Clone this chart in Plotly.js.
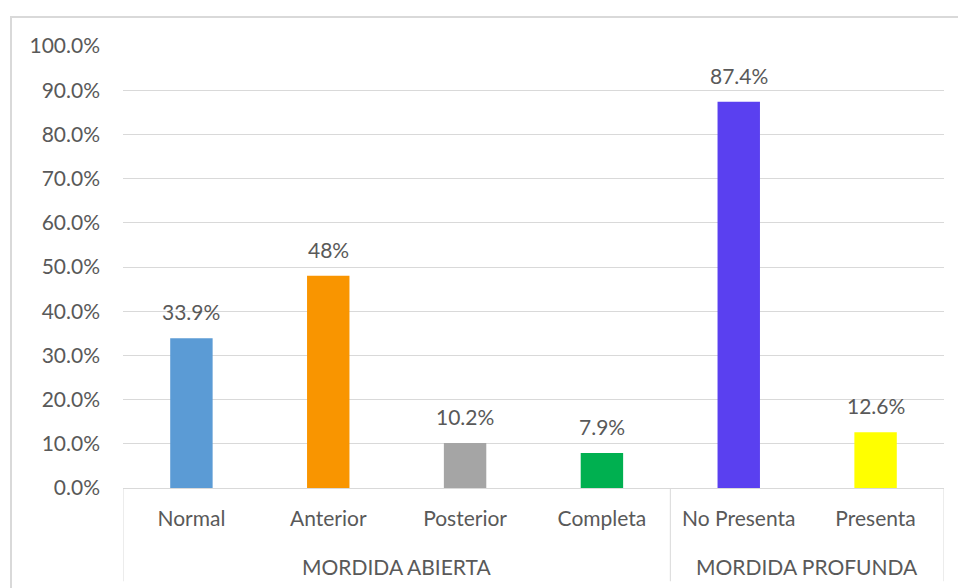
<!DOCTYPE html>
<html>
<head>
<meta charset="utf-8">
<script src="https://cdn.plot.ly/plotly-3.0.1.min.js"></script>
<style>
  html, body { margin: 0; padding: 0; background: #ffffff; }
  #chart { width: 958px; height: 588px; }
</style>
</head>
<body>
<div id="chart"></div>
<script>
// ---- data ----
const categories = ["Normal", "Anterior", "Posterior", "Completa", "No Presenta", "Presenta"];
const groupNames = ["MORDIDA ABIERTA", "MORDIDA PROFUNDA"];
const groupSizes = [4, 2];
const values = [33.9, 48, 10.2, 7.9, 87.4, 12.6];
const valueLabels = ["33.9%", "48%", "10.2%", "7.9%", "87.4%", "12.6%"];
const yTickValues = [0, 10, 20, 30, 40, 50, 60, 70, 80, 90, 100];
const yTickLabels = ["0.0%", "10.0%", "20.0%", "30.0%", "40.0%", "50.0%", "60.0%", "70.0%", "80.0%", "90.0%", "100.0%"];
const barColors = ["#5B9BD5", "#F99500", "#A5A5A5", "#00B050", "#5A40F0", "#FFFF00"];

// ---- styling ----
const FONT = "Lato, 'Open Sans', sans-serif";
const TXT = "#595959";
const GRID = "#d9d9d9";
const FS = 21;

const trace = {
  type: "bar",
  x: categories,
  y: values,
  marker: { color: barColors, line: { width: 0 } },
  width: 0.31,
  hoverinfo: "skip"
};

const annotations = [];
values.forEach((v, i) => {
  annotations.push({
    x: categories[i], y: v, xref: "x", yref: "y",
    text: valueLabels[i], showarrow: false,
    yanchor: "bottom", yshift: 12,
    font: { family: FONT, size: FS, color: TXT }
  });
});

const shapes = [];
let start = 0;
const dividerBottom = -0.211;
shapes.push({ type: "line", xref: "x", yref: "paper", x0: -0.5, x1: -0.5, y0: 0, y1: dividerBottom, line: { color: GRID, width: 1 } });
groupNames.forEach((g, gi) => {
  const end = start + groupSizes[gi];
  annotations.push({
    x: (start + end - 1) / 2, y: -0.1765, xref: "x", yref: "paper",
    text: g, showarrow: false, yanchor: "middle",
    font: { family: FONT, size: FS, color: TXT }
  });
  shapes.push({ type: "line", xref: "x", yref: "paper", x0: end - 0.5, x1: end - 0.5, y0: 0, y1: dividerBottom, line: { color: GRID, width: 1 } });
  start = end;
});

// outer chart border (cropped on the right and bottom)
shapes.push({
  type: "rect", xref: "paper", yref: "paper",
  x0: -0.1364, x1: 1.03, y0: -0.24, y1: 1.0656,
  line: { color: GRID, width: 2 }, fillcolor: "rgba(0,0,0,0)"
});

const layout = {
  width: 958, height: 588,
  margin: { l: 123, r: 14, t: 46, b: 100, pad: 0 },
  paper_bgcolor: "#ffffff",
  plot_bgcolor: "#ffffff",
  showlegend: false,
  font: { family: FONT, size: FS, color: TXT },
  xaxis: {
    type: "category",
    range: [-0.5, categories.length - 0.5],
    showgrid: false,
    showline: true, linecolor: GRID, linewidth: 1,
    ticks: "", ticklabelstandoff: 12,
    tickfont: { family: FONT, size: FS, color: TXT },
    fixedrange: true
  },
  yaxis: {
    range: [0, 100],
    tickvals: yTickValues, ticktext: yTickLabels,
    showgrid: true, gridcolor: GRID, gridwidth: 1,
    zeroline: false, showline: false,
    ticks: "", ticklabelstandoff: 22,
    tickfont: { family: FONT, size: FS, color: TXT },
    fixedrange: true
  },
  annotations: annotations,
  shapes: shapes
};

Plotly.newPlot("chart", [trace], layout, { displayModeBar: false, staticPlot: true });
</script>
</body>
</html>
